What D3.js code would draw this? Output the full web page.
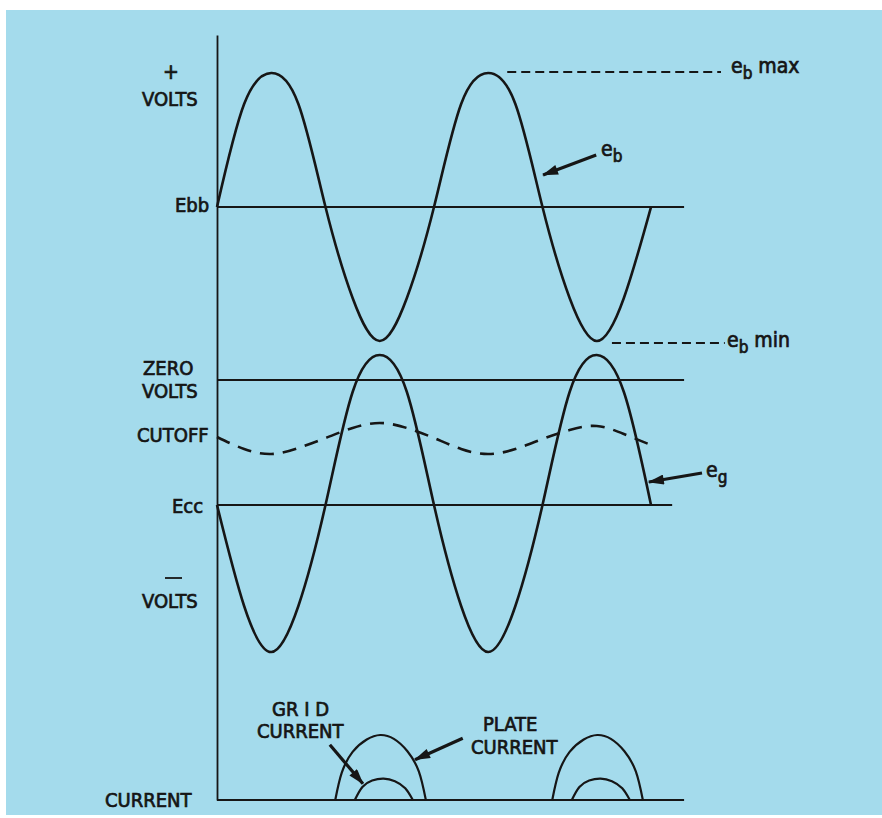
<!DOCTYPE html>
<html><head><meta charset="utf-8">
<script src="https://cdn.jsdelivr.net/npm/d3@7"></script>
<style>
html,body{margin:0;padding:0;background:#fff;}
svg{display:block;}
text{font-family:"DejaVu Sans Condensed","DejaVu Sans",sans-serif;fill:#151515;stroke:#151515;stroke-width:0.7px;}
</style></head><body>
<script>
// ---- data (time in quarter-periods, voltage in arbitrary units, zero volts = 0) ----
const phase = [0, 0.5, 1, 1.5, 2, 2.5, 3, 3.5, 4, 4.5, 5, 5.5, 6, 6.5, 7, 7.5, 8];
const ebValues = [173, 276, 307, 276, 173, 82, 39, 82, 173, 276, 307, 276, 173, 82, 39, 82, 173];
const egValues = [-125, -226, -272, -226, -125, -12, 25, -12, -125, -226, -272, -226, -125, -12, 25, -12, -125];
const cutoffValues = [-57, -69, -74, -68, -58, -48, -43, -48, -58, -69, -74, -69, -59, -50, -46, -54, -65];
const levelNames = ["Ebb", "ZERO", "Ecc"];
const levelValues = [173, 0, -125];
const levelEnds = [8.61, 8.61, 8.39];
const ebMax = 308, ebMin = 37;
const ebMaxSpan = [5.35, 9.29], ebMinSpan = [7.28, 9.36];
// currents (relative units)
const plateT = [2.18, 2.3, 2.5, 2.76, 3.01, 3.26, 3.51, 3.72, 3.85];
const plateI = [0, 0.42, 0.74, 0.93, 1, 0.94, 0.75, 0.44, 0];
const gridT = [2.54, 2.68, 2.86, 3.07, 3.28, 3.47, 3.61];
const gridI = [0, 0.2, 0.3, 0.33, 0.29, 0.18, 0];
const pulseStarts = [0, 4];

const W = 882, H = 818;
const svg = d3.select("body").append("svg").attr("width", W).attr("height", H);
svg.append("rect").attr("x", 6).attr("y", 10).attr("width", W - 6).attr("height", 805).attr("fill", "#a4dbec");

const x = d3.scaleLinear().domain([0, 8]).range([217, 651]);
const yV = d3.scaleLinear().domain([-420, 345]).range([800, 35]);
const yI = d3.scaleLinear().domain([0, 1]).range([800, 735]);
const ink = "#161616";

const defs = svg.append("defs");
defs.append("marker").attr("id", "ah").attr("viewBox", "0 0 16 10").attr("refX", 15).attr("refY", 5)
  .attr("markerWidth", 17).attr("markerHeight", 10).attr("markerUnits", "userSpaceOnUse").attr("orient", "auto")
  .append("path").attr("d", "M0,0 L16,5 L0,10 Z").attr("fill", ink);

// vertical axis
svg.append("g").attr("transform", `translate(${x(0)},0)`)
  .call(d3.axisLeft(yV).tickValues([]).tickSizeOuter(0))
  .call(g => g.select(".domain").attr("stroke", ink).attr("stroke-width", 1.8));

// level lines
levelValues.forEach((v, i) => {
  svg.append("line").attr("x1", x(0)).attr("x2", x(levelEnds[i])).attr("y1", yV(v)).attr("y2", yV(v))
    .attr("stroke", ink).attr("stroke-width", 1.8);
});
// current baseline
svg.append("line").attr("x1", x(0)).attr("x2", x(8.61)).attr("y1", yI(0)).attr("y2", yI(0))
  .attr("stroke", ink).attr("stroke-width", 1.8);

// eb max / min dashed
[[ebMax, ebMaxSpan], [ebMin, ebMinSpan]].forEach(([v, s]) => {
  svg.append("line").attr("x1", x(s[0])).attr("x2", x(s[1])).attr("y1", yV(v)).attr("y2", yV(v))
    .attr("stroke", ink).attr("stroke-width", 1.8).attr("stroke-dasharray", "9,5");
});

const lineV = d3.line().x((d, i) => x(phase[i])).y(d => yV(d)).curve(d3.curveNatural);
svg.append("path").attr("d", lineV(ebValues)).attr("fill", "none").attr("stroke", ink).attr("stroke-width", 2.6);
svg.append("path").attr("d", lineV(egValues)).attr("fill", "none").attr("stroke", ink).attr("stroke-width", 2.6);
svg.append("path").attr("d", lineV(cutoffValues)).attr("fill", "none").attr("stroke", ink).attr("stroke-width", 2.6)
  .attr("stroke-dasharray", "14,9");

// current pulses
pulseStarts.forEach(off => {
  const lp = d3.line().x((d, i) => x(plateT[i] + off)).y(d => yI(d)).curve(d3.curveNatural);
  svg.append("path").attr("d", lp(plateI)).attr("fill", "none").attr("stroke", ink).attr("stroke-width", 2.2);
  const lg = d3.line().x((d, i) => x(gridT[i] + off)).y(d => yI(d)).curve(d3.curveNatural);
  svg.append("path").attr("d", lg(gridI)).attr("fill", "none").attr("stroke", ink).attr("stroke-width", 2.2);
});

// arrows
function arrow(x1, y1, x2, y2) {
  svg.append("line").attr("x1", x1).attr("y1", y1).attr("x2", x2).attr("y2", y2)
    .attr("stroke", ink).attr("stroke-width", 3.2).attr("marker-end", "url(#ah)");
}
arrow(x(6.99), yV(225), x(6.01), yV(205));
arrow(x(8.94), yV(-93), x(7.96), yV(-102));
arrow(x(4.53), yI(0.95), x(3.65), yI(0.62));
arrow(x(2.08), yI(0.85), x(2.69), yI(0.25));

// labels
function label(t, px, py, size, anchor) {
  svg.append("text").attr("x", px).attr("y", py).attr("font-size", size).attr("text-anchor", anchor || "start").text(t);
}
label("+", 171, 79, 21, "middle");
label("VOLTS", 142, 106, 20);
label(levelNames[0], 175, 212, 20);
label("ZERO", 143, 375, 20);
label("VOLTS", 142, 398, 20);
label("CUTOFF", 137, 442, 20);
label(levelNames[2], 172, 513, 20);
svg.append("line").attr("x1", 165).attr("x2", 182).attr("y1", 578).attr("y2", 578).attr("stroke", ink).attr("stroke-width", 1.8);
label("VOLTS", 142, 608, 20);
label("CURRENT", 105, 807, 20);
label("GR I D", 272, 716, 20);
label("CURRENT", 257, 738, 20);
label("PLATE", 483, 731, 20);
label("CURRENT", 471, 754, 20);

function eLabel(px, py, sub, rest) {
  const t = svg.append("text").attr("x", px).attr("y", py).attr("font-size", 21);
  t.append("tspan").text("e");
  t.append("tspan").attr("font-size", 17).attr("dy", 6).text(sub);
  if (rest) t.append("tspan").attr("dy", -6).attr("dx", 6).text(rest);
}
eLabel(731, 73, "b", "max");
eLabel(601, 156, "b");
eLabel(727, 347, "b", "min");
eLabel(706, 477, "g");
</script>
</body></html>
